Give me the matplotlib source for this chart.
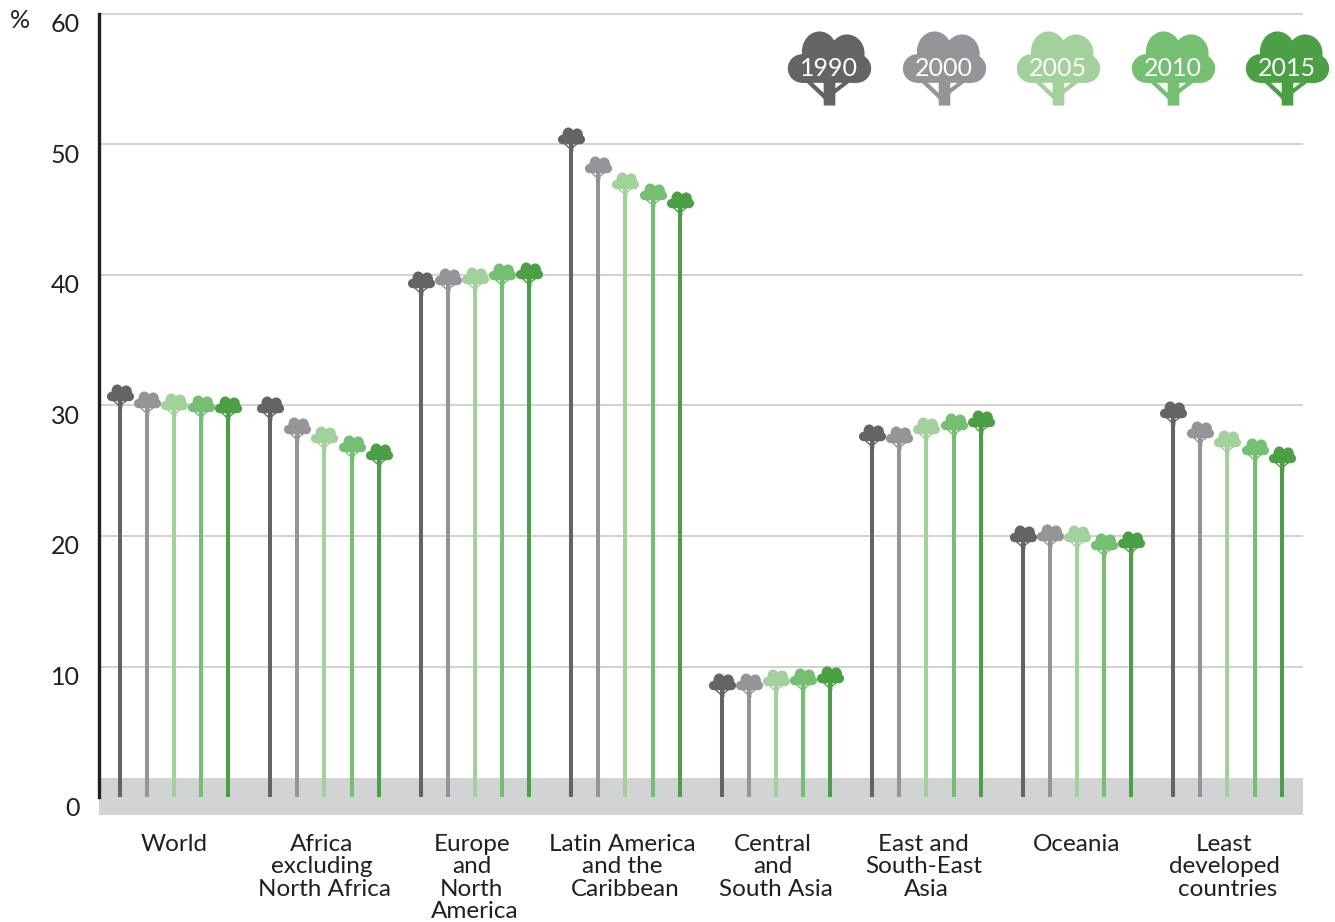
import numpy as np
import matplotlib
matplotlib.use('Agg')
import matplotlib.pyplot as plt
from matplotlib.path import Path
from matplotlib.transforms import Affine2D, ScaledTranslation

plt.rcParams['font.family'] = ['Lato', 'DejaVu Sans']

regions = [
    ['World'],
    ['Africa', 'excluding', 'North Africa'],
    ['Europe', 'and', 'North', 'America'],
    ['Latin America', 'and the', 'Caribbean'],
    ['Central', 'and', 'South Asia'],
    ['East and', 'South-East', 'Asia'],
    ['Oceania'],
    ['Least', 'developed', 'countries'],
]
years = ['1990', '2000', '2005', '2010', '2015']
colors = ['#636466', '#939598', '#a3d19c', '#74bf71', '#4ba046']

forest_1990 = [30.7, 29.8, 39.4, 50.4, 8.6, 27.7, 19.9, 29.4]
forest_2000 = [30.2, 28.2, 39.6, 48.2, 8.6, 27.5, 20.0, 27.9]
forest_2005 = [30.0, 27.5, 39.7, 47.0, 8.9, 28.2, 19.9, 27.2]
forest_2010 = [29.9, 26.8, 40.0, 46.1, 9.0, 28.5, 19.3, 26.6]
forest_2015 = [29.8, 26.2, 40.1, 45.5, 9.1, 28.7, 19.5, 26.0]
series = [forest_1990, forest_2000, forest_2005, forest_2010, forest_2015]

yticks = [0, 10, 20, 30, 40, 50, 60]


def ellipse(cx, cy, rx, ry):
    return Affine2D().scale(rx, ry).translate(cx, cy).transform_path(Path.unit_circle())


def poly(pts):
    # keep everything counter clockwise so the overlaps stay filled
    pts = np.array(pts, dtype=float)
    x, y = pts[:, 0], pts[:, 1]
    if np.sum(x * np.roll(y, -1) - np.roll(x, -1) * y) < 0:
        pts = pts[::-1]
    return Path(np.vstack([pts, pts[0]]), closed=True)


def make_tree():
    # units are pixels at legend size, origin in the middle of the crown
    parts = [
        ellipse(-27.3, 0, 14.3, 14.3), ellipse(27.3, 0, 14.3, 14.3),
        poly([(-27.3, -14.3), (27.3, -14.3), (27.3, 14.3), (-27.3, 14.3)]),
        ellipse(-10, 17, 17.5, 20), ellipse(17.5, 15, 17.5, 19),
        poly([(-5.8, -37), (5.8, -37), (5.8, 0), (-5.8, 0)]),
        poly([(-23, -14), (-19, -12), (-3, -27), (-3, -33)]),
        poly([(16, -12), (20, -14), (3, -27), (3, -22)]),
    ]
    return Path.make_compound_path(*parts)


tree = make_tree()

fig = plt.figure(figsize=(13.35, 9.22), dpi=100)
ax = fig.add_axes([99 / 1335, 1 - 815 / 922, 1204 / 1335, 805 / 922])
ax.set_xlim(-20.5 / 150.5, 1183.5 / 150.5)
ax.set_ylim(-18 / 13.05, 787 / 13.05)

ax.axhspan(-18 / 13.05, 19 / 13.05, facecolor='#d1d3d4', edgecolor='none', zorder=1)
for t in yticks[1:]:
    ax.axhline(t, color='#d1d3d4', lw=1.5, zorder=1)

step = 27.2 / 150.5
xpos = np.arange(len(regions))
for j, vals in enumerate(series):
    x = xpos + j * step
    ax.vlines(x, 0, vals, color=colors[j], lw=2.9, zorder=3, capstyle='butt')
    ax.plot(x, vals, ls='none', marker=tree, ms=19.5, color=colors[j], mew=0, zorder=4 + j)

    # legend tree
    lx = 4.717 + j * 0.76
    ax.plot([lx], [55.9], ls='none', marker=tree, ms=60, color=colors[j], mew=0, zorder=10,
            clip_on=False)
    ax.text(lx, 55.85, years[j], color='white', fontsize=18, ha='center', va='center', zorder=11,
            clip_on=False)

for s in ['top', 'right', 'bottom']:
    ax.spines[s].set_visible(False)
ax.spines['left'].set_bounds(0, 60)
ax.spines['left'].set_linewidth(2.4)
ax.spines['left'].set_color('#231f20')

ax.set_xticks([])
ax.set_yticks(yticks)
ax.tick_params(axis='y', length=0, pad=13.7, labelsize=18, labelcolor='#231f20')
shift = ScaledTranslation(0, -9 / 100, fig.dpi_scale_trans)
for lab in ax.get_yticklabels():
    lab.set_transform(lab.get_transform() + shift)

fig.text(20 / 1335, 1 - 21 / 922, '%', fontsize=18, color='#231f20', ha='center', va='center')

# category labels, last line sits a bit to the right like in the original
for i, lines in enumerate(regions):
    xc = i + 2 * step
    for k, line in enumerate(lines):
        dx = 0 if k == len(lines) - 1 else -3
        ax.annotate(line, xy=(xc, 0), xycoords=('data', 'axes fraction'),
                    xytext=(dx, -29.5 - k * 22.3), textcoords='offset pixels',
                    ha='center', va='center', fontsize=17.5, color='#231f20')

fig.savefig('out.png', dpi=100)
